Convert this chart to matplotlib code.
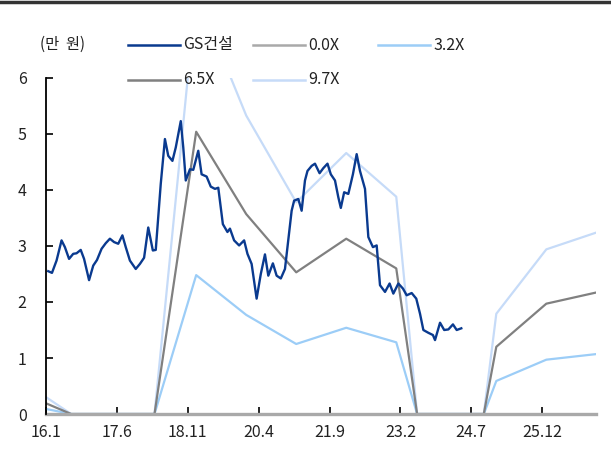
import matplotlib
matplotlib.use('Agg')
import matplotlib.pyplot as plt
from matplotlib.lines import Line2D

plt.rcParams['font.family'] = ['Noto Sans CJK KR', 'DejaVu Sans']

# months counted from Jan 2016
price_t = [0.5, 1.4, 2.5, 3.7, 4.5, 5.5, 6.5, 7.3, 8.3, 9.1, 10.3, 11.3, 12.2, 13.3,
           14.3, 15.3, 16.3, 17.3, 18.3, 19.1, 20.1, 21.5, 22.5, 23.5, 24.5, 25.6,
           26.3, 27.5, 28.5, 29.3, 30.3, 31.1, 32.3, 32.9, 33.5, 34.5, 35.3, 36.5,
           37.3, 38.5, 39.5, 40.5, 41.3, 42.4, 43.5, 44.1, 45.1, 46.3, 47.5, 48.3,
           49.3, 50.5, 51.5, 52.5, 53.3, 54.4, 55.3, 56.3, 57.3, 57.9, 58.9, 59.5,
           60.5, 61.3, 62.1, 62.7, 63.7, 64.5, 65.6, 66.5, 67.5, 68.3, 69.3, 70.1,
           70.7, 71.5, 72.5, 73.6, 74.5, 75.3, 76.5, 77.3, 78.4, 79.3, 80.1, 81.3,
           82.4, 83.3, 84.5, 85.6, 86.5, 87.7, 88.8, 89.7, 90.5, 91.7, 92.8, 93.3,
           94.5, 95.5, 96.5, 97.6, 98.5, 99.6]
price = [2.55, 2.52, 2.74, 3.10, 2.98, 2.77, 2.86, 2.87, 2.93, 2.77, 2.39, 2.65, 2.75, 2.95,
         3.05, 3.13, 3.07, 3.04, 3.19, 2.98, 2.74, 2.59, 2.68, 2.79, 3.33, 2.92,
         2.93, 4.11, 4.91, 4.61, 4.52, 4.76, 5.23, 4.76, 4.17, 4.37, 4.36, 4.70,
         4.28, 4.24, 4.06, 4.02, 4.04, 3.39, 3.25, 3.31, 3.10, 3.01, 3.10, 2.86,
         2.68, 2.06, 2.50, 2.85, 2.47, 2.69, 2.47, 2.42, 2.59, 2.98, 3.63, 3.81,
         3.84, 3.63, 4.17, 4.34, 4.43, 4.47, 4.30, 4.39, 4.47, 4.28, 4.17, 3.87,
         3.68, 3.96, 3.93, 4.28, 4.64, 4.34, 4.02, 3.16, 2.98, 3.01, 2.30, 2.18,
         2.33, 2.15, 2.33, 2.24, 2.12, 2.16, 2.06, 1.79, 1.50, 1.45, 1.41, 1.32,
         1.63, 1.50, 1.51, 1.60, 1.50, 1.53]

band_t = [0, 6, 26, 36, 48, 60, 72, 84, 89, 105, 108, 120, 132]
band_00 = [0, 0, 0, 0, 0, 0, 0, 0, 0, 0, 0, 0, 0]
band_32 = [0.09, 0, 0, 2.48, 1.77, 1.25, 1.54, 1.28, 0, 0, 0.59, 0.97, 1.07]
band_65 = [0.19, 0, 0, 5.04, 3.57, 2.53, 3.13, 2.60, 0, 0, 1.20, 1.97, 2.17]
band_97 = [0.30, 0, 0, 7.52, 5.33, 3.78, 4.66, 3.88, 0, 0, 1.79, 2.94, 3.24]

tick_pos = [0, 17, 34, 51, 68, 85, 102, 119]
tick_labels = ['16.1', '17.6', '18.11', '20.4', '21.9', '23.2', '24.7', '25.12']

W, H = 611, 455
fig = plt.figure(figsize=(W / 100, H / 100), dpi=100)
ax = fig.add_axes([0.0755, 0.0901, 0.9005, 0.7385])

c_gs, c00, c32, c65, c97 = '#0a3a8f', '#a9a9a9', '#9ccdf7', '#808080', '#c6dbf8'

ax.plot(band_t, band_97, color=c97, lw=1.6)
ax.plot(band_t, band_32, color=c32, lw=1.6)
ax.plot(band_t, band_65, color=c65, lw=1.6)
ax.plot(band_t, band_00, color=c00, lw=2.4, clip_on=False)
ax.plot(price_t, price, color=c_gs, lw=1.7)

ax.set_xlim(0, 132)
ax.set_ylim(0, 6)
ax.set_xticks(tick_pos)
ax.set_xticklabels(tick_labels)
ax.set_yticks(range(0, 7))
ax.tick_params(axis='both', direction='in', length=5, width=1.2, colors='black',
               labelsize=11.5, labelcolor='#222222')
ax.tick_params(axis='x', pad=7)
ax.tick_params(axis='y', pad=14)
for s in ['top', 'right', 'bottom']:
    ax.spines[s].set_visible(False)
ax.spines['left'].set_linewidth(1.3)

# legend drawn by hand: fixed column grid like the source
entries = [('GS건설', c_gs), ('0.0X', c00), ('3.2X', c32), ('6.5X', c65), ('9.7X', c97)]
col_x = [128, 253, 378]
row_y = [45, 80]
for i, (lab, col) in enumerate(entries):
    x0 = col_x[i % 3]
    y0 = row_y[i // 3]
    fig.add_artist(Line2D([x0 / W, (x0 + 52) / W], [1 - y0 / H, 1 - y0 / H], color=col, lw=1.8))
    fig.text((x0 + 55) / W, 1 - y0 / H, lab, fontsize=11.5, ha='left', va='center', color='#222222')

fig.text(62 / W, 1 - 44 / H, '(만  원)', fontsize=11, ha='center', va='center', color='#222222')
fig.add_artist(Line2D([0, 1], [0.995, 0.995], color='#333333', lw=2.5))

fig.savefig('out.png', dpi=100)
